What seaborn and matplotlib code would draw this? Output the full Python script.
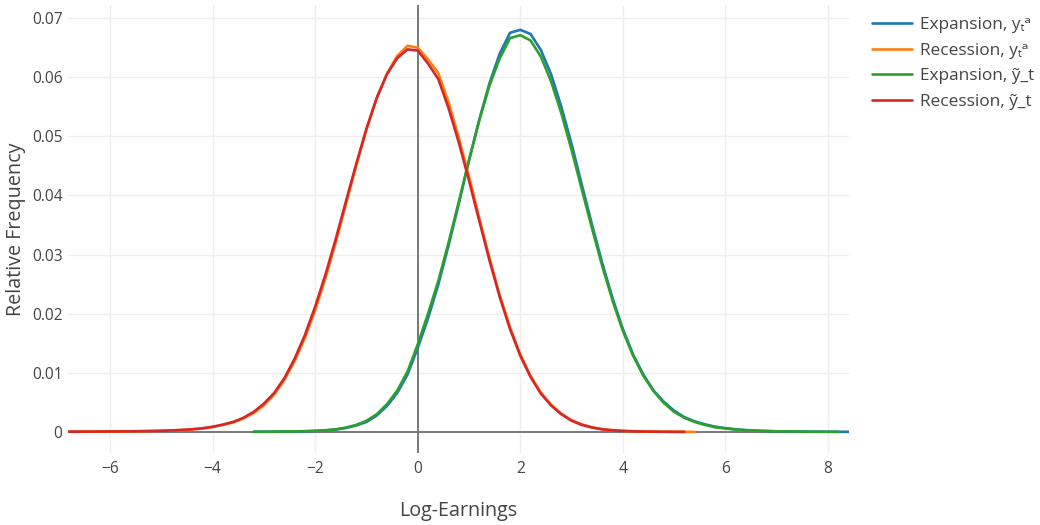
import numpy as np
import pandas as pd
import matplotlib
matplotlib.use("Agg")
import matplotlib.pyplot as plt
from matplotlib.font_manager import FontProperties
from matplotlib.ticker import FuncFormatter
import seaborn as sns

# ---------------- data ----------------
rec_x = np.round(np.arange(-7.0, 5.41, 0.2), 1)          # recession grid
exp_x = np.round(np.arange(-3.2, 8.61, 0.2), 1)          # expansion grid

# Recession, y_t^a  (orange) : x = -7.0 .. 5.4
rec_ya = [0.00005, 0.00006, 0.00006, 0.00007, 0.00008, 0.00009, 0.00010, 0.00011,
          0.00013, 0.00016, 0.00020, 0.00026, 0.00034, 0.00045, 0.00060, 0.00085,
          0.0012, 0.0016, 0.0023, 0.0032, 0.0045, 0.0063, 0.0088, 0.0120,
          0.0159, 0.0206, 0.0260, 0.0320, 0.0385, 0.0450, 0.0511, 0.0564,
          0.0606, 0.0636, 0.0653, 0.0650, 0.0630, 0.0607, 0.0558, 0.0498,
          0.0432, 0.0362, 0.0294, 0.0231, 0.0177, 0.0131, 0.0095, 0.0067,
          0.0046, 0.0031, 0.0020, 0.0013, 0.0008, 0.00048, 0.00030, 0.00019,
          0.00013, 0.00009, 0.00007, 0.00005, 0.00004, 0.00003, 0.00002]

# Recession, y~_t  (red) : x = -7.0 .. 5.2
rec_yt = [0.00005, 0.00006, 0.00006, 0.00007, 0.00008, 0.00009, 0.00010, 0.00012,
          0.00014, 0.00017, 0.00021, 0.00027, 0.00035, 0.00046, 0.00062, 0.00088,
          0.00125, 0.0017, 0.0024, 0.0034, 0.0048, 0.0066, 0.0091, 0.0124,
          0.0164, 0.0212, 0.0266, 0.0326, 0.0390, 0.0453, 0.0513, 0.0565,
          0.0605, 0.0632, 0.0647, 0.0645, 0.0623, 0.0597, 0.0548, 0.0490,
          0.0425, 0.0357, 0.0290, 0.0228, 0.0174, 0.0129, 0.0093, 0.0065,
          0.0045, 0.0030, 0.0019, 0.0012, 0.00075, 0.00045, 0.00028, 0.00018,
          0.00012, 0.00008, 0.00006, 0.00004, 0.00003, 0.00002]

# Expansion, y_t^a  (blue) : x = -3.2 .. 8.6
exp_ya = [0.00003, 0.00004, 0.00005, 0.00007, 0.00009, 0.00012, 0.00018, 0.00026,
          0.0004, 0.00068, 0.0011, 0.0017, 0.0028, 0.0044, 0.0066, 0.0097,
          0.0142, 0.0192, 0.0249, 0.0315, 0.0386, 0.0459, 0.0528, 0.0590,
          0.0640, 0.0675, 0.0680, 0.0673, 0.0646, 0.0605, 0.0550, 0.0487,
          0.0418, 0.0350, 0.0285, 0.0226, 0.0174, 0.0131, 0.0097, 0.0070,
          0.0051, 0.0036, 0.0025, 0.0018, 0.0013, 0.0009, 0.00065, 0.00045,
          0.00032, 0.00023, 0.00017, 0.00012, 0.00010, 0.00008, 0.00006, 0.00005,
          0.00004, 0.00004, 0.00003, 0.00003]

# Expansion, y~_t  (green) : x = -3.2 .. 8.2
exp_yt = [0.00004, 0.00005, 0.00006, 0.00008, 0.00010, 0.00014, 0.00020, 0.00030,
          0.00045, 0.00075, 0.0012, 0.0019, 0.0030, 0.0047, 0.0070, 0.0102,
          0.0148, 0.0200, 0.0255, 0.0320, 0.0389, 0.0460, 0.0527, 0.0586,
          0.0632, 0.0666, 0.0671, 0.0662, 0.0635, 0.0593, 0.0539, 0.0477,
          0.0410, 0.0344, 0.0280, 0.0222, 0.0171, 0.0129, 0.0095, 0.0069,
          0.0049, 0.0034, 0.0024, 0.0017, 0.0012, 0.0008, 0.0006, 0.00042,
          0.00030, 0.00021, 0.00015, 0.00011, 0.00009, 0.00007, 0.00005, 0.00004,
          0.00004, 0.00003]

series_names = ["Expansion, yₜᵃ", "Recession, yₜᵃ", "Expansion, ỹ_t", "Recession, ỹ_t"]
series_colors = ["#1f77b4", "#ff7f0e", "#2ca02c", "#d62728"]

x_ticks = [-6, -4, -2, 0, 2, 4, 6, 8]
y_ticks = [0, 0.01, 0.02, 0.03, 0.04, 0.05, 0.06, 0.07]
x_title = "Log-Earnings"
y_title = "Relative Frequency"

# ---------------- build long table ----------------
frames = [
    pd.DataFrame({"x": exp_x[:len(exp_ya)], "y": exp_ya, "series": series_names[0]}),
    pd.DataFrame({"x": rec_x[:len(rec_ya)], "y": rec_ya, "series": series_names[1]}),
    pd.DataFrame({"x": exp_x[:len(exp_yt)], "y": exp_yt, "series": series_names[2]}),
    pd.DataFrame({"x": rec_x[:len(rec_yt)], "y": rec_yt, "series": series_names[3]}),
]
df = pd.concat(frames, ignore_index=True)

# ---------------- style ----------------
sns.set_theme(style="white")
plt.rcParams["font.family"] = ["Open Sans", "DejaVu Sans"]
text_color = "#444444"

fig = plt.figure(figsize=(10.4, 5.25), dpi=100)
ax = fig.add_axes([68 / 1040, 72 / 525, (849 - 68) / 1040, (453 - 5) / 525])

# zero lines (below traces)
ax.axvline(0, color="#6f6f6f", lw=1.3, zorder=1)
ax.axhline(0, color="#6f6f6f", lw=1.3, zorder=1)

sns.lineplot(data=df, x="x", y="y", hue="series", hue_order=series_names,
             palette=series_colors, estimator=None, sort=False, linewidth=1.9,
             ax=ax, zorder=3, legend=True)

ax.set_xlim(-6.82, 8.41)
ax.set_ylim(-0.00355, 0.0722)
ax.set_xticks(x_ticks)
ax.set_yticks(y_ticks)
ax.xaxis.set_major_formatter(FuncFormatter(lambda v, p: f"{v:.0f}".replace("-", "\u2212")))
ax.yaxis.set_major_formatter(FuncFormatter(lambda v, p: "0" if abs(v) < 1e-9 else f"{v:.2f}"))
ax.grid(True, color="#eeeeee", lw=1.0, zorder=0)
ax.set_axisbelow(True)
for s in ax.spines.values():
    s.set_visible(False)
ax.tick_params(axis="both", length=0, labelsize=11.2, colors=text_color)
ax.tick_params(axis="x", pad=6)
ax.tick_params(axis="y", pad=4)

ax.set_xlabel(x_title, fontsize=14.2, color=text_color, labelpad=17)
ax.set_ylabel("")
fig.text(16 / 1040, (72 + 448 / 2) / 525, y_title, rotation=90, ha="center", va="center",
         fontsize=14.2, color=text_color)

handles, labels = ax.get_legend_handles_labels()
ax.get_legend().remove()
fig.legend(handles, labels, loc="upper left", bbox_to_anchor=(872 / 1040, 1 - 17 / 525),
           frameon=False, borderpad=0, borderaxespad=0, handlelength=2.3,
           handletextpad=0.48, labelspacing=0.55, labelcolor=text_color,
           prop=FontProperties(family=["Open Sans", "DejaVu Sans"], size=12.4))

fig.savefig("out.png", dpi=100)
